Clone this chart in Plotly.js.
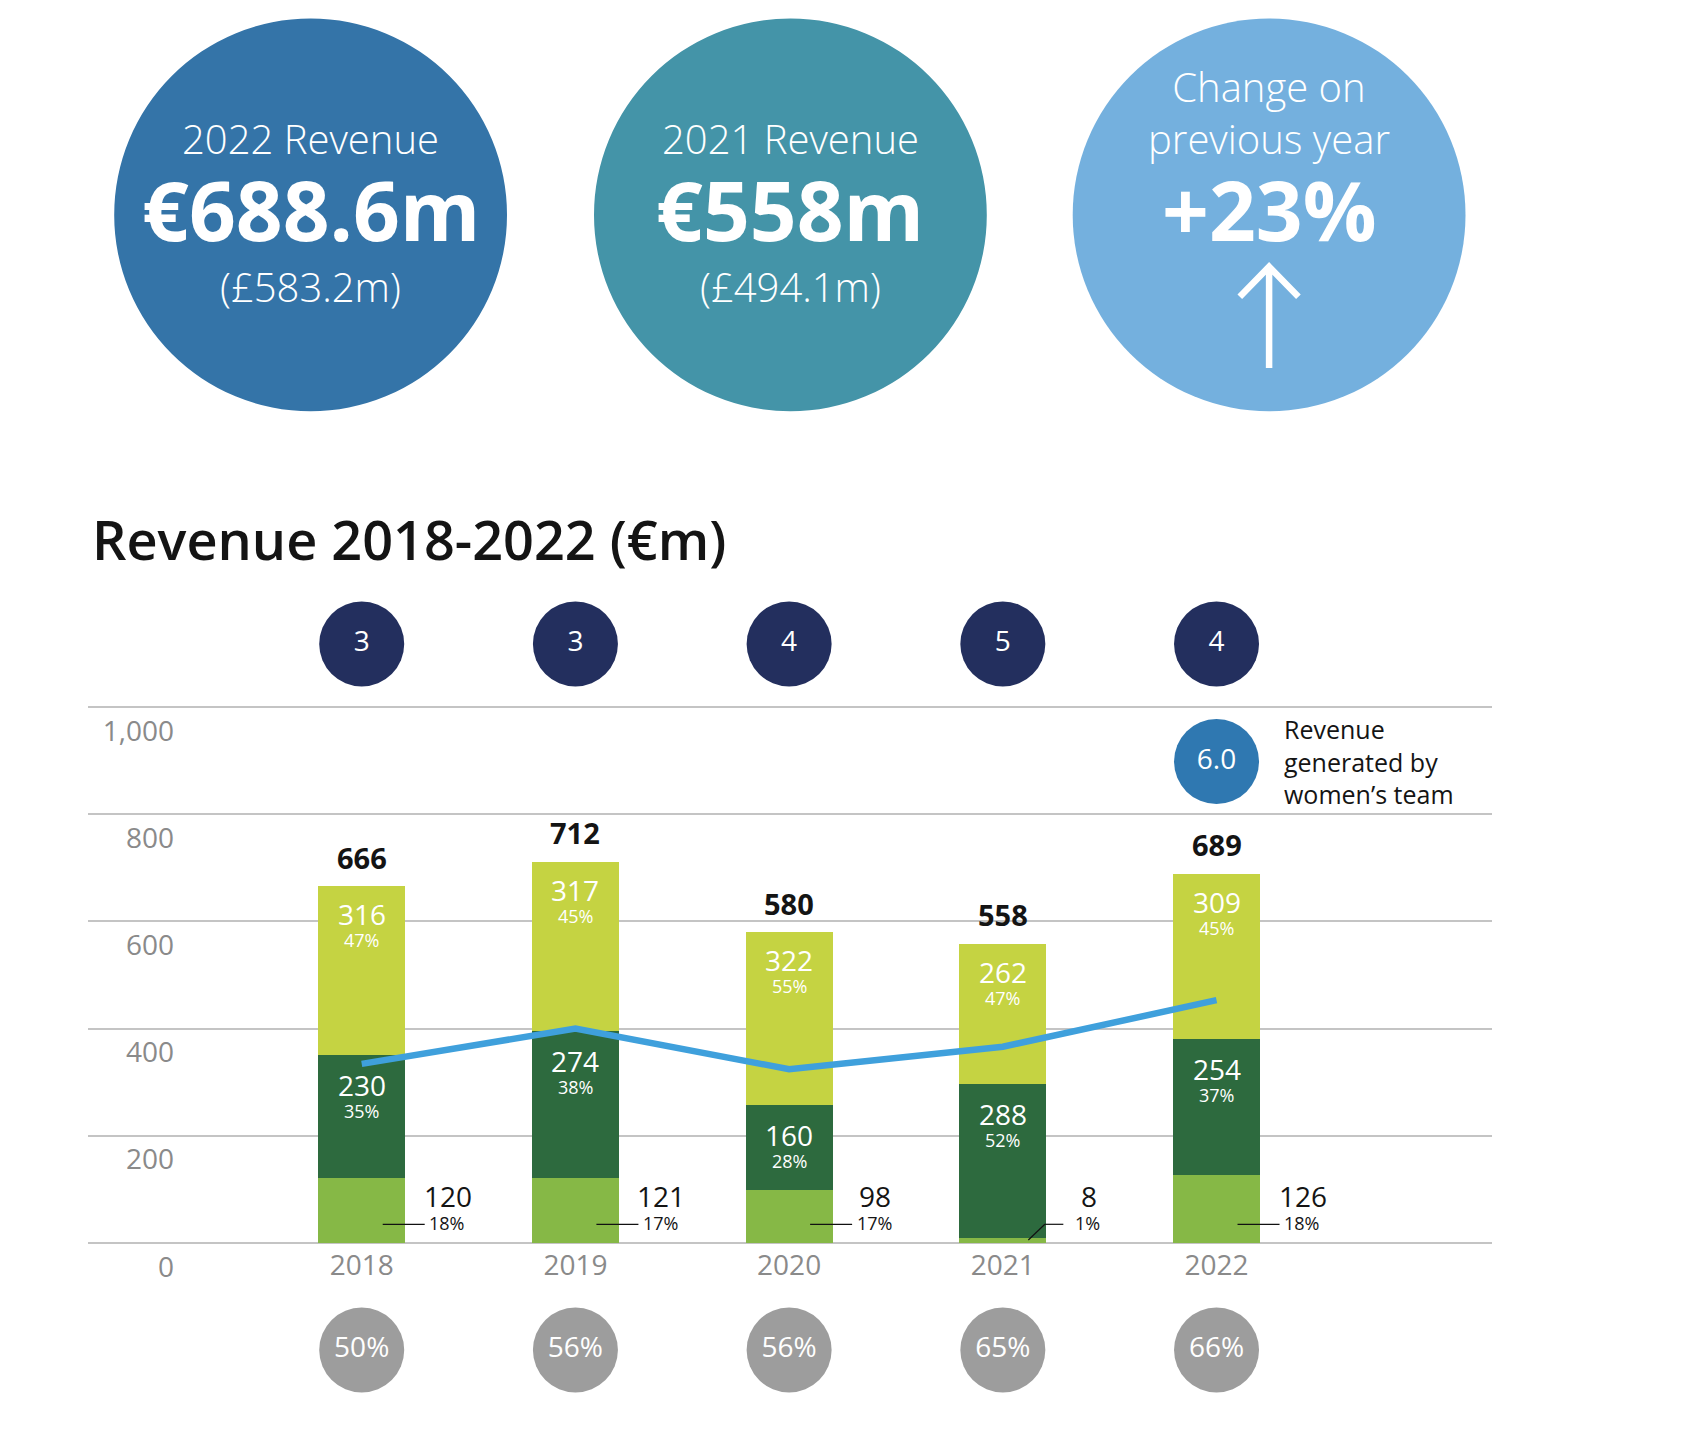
<!DOCTYPE html>
<html><head><meta charset="utf-8">
<script src="https://cdn.plot.ly/plotly-3.0.1.min.js"></script>
<style>html,body{margin:0;padding:0;background:#fff}#chart{width:1706px;height:1451px}</style>
</head><body><div id="chart"></div>
<script>
// ---------- data ----------
const years = ['2018', '2019', '2020', '2021', '2022'];
const bottomVals = [120, 121, 98, 8, 126];
const bottomPct = ['18%', '17%', '17%', '1%', '18%'];
const middleVals = [230, 274, 160, 288, 254];
const middlePct = ['35%', '38%', '28%', '52%', '37%'];
const topVals = [316, 317, 322, 262, 309];
const topPct = ['47%', '45%', '55%', '47%', '45%'];
const totals = [666, 712, 580, 558, 689];
const lineVals = [334, 400, 324, 366, 453];
const topCircleVals = ['3', '3', '4', '5', '4'];
const bottomCirclePct = ['50%', '56%', '56%', '65%', '66%'];
const womenTeamRevenue = ['6.0'];
const legendText = 'Revenue<br>generated by<br>women’s team';
const yTickVals = [0, 200, 400, 600, 800, 1000];
const yTickText = ['0', '200', '400', '600', '800', '1,000'];
const chartTitle = 'Revenue 2018-2022 (€m)';
const kpiLabels = ['2022 Revenue', '2021 Revenue', 'Change on<br>previous year'];
const kpiValues = ['€688.6m', '€558m', '+23%'];
const kpiSubs = ['(£583.2m)', '(£494.1m)', ''];

// ---------- styling / geometry ----------
const W = 1706, H = 1451;
const M = {l: 88, r: 214, t: 590, b: 51};
const PW = W - M.l - M.r, PH = H - M.t - M.b;
const px2x = px => (px - M.l) / PW;
const px2y = py => (H - M.b - py) / PH;
const FONT = 'Open Sans, Noto Sans, sans-serif';
const C = {
  bottom: '#86b846', middle: '#2d6a3e', top: '#c5d342', line: '#3fa0dc',
  navy: '#232f5e', gray: '#9d9d9d', legend: '#2f78b1', grid: '#c4c4c4',
  tick: '#8a8a8a', text: '#141414'
};
const kpiColors = ['#3474a8', '#4494a8', '#74b0de'];
const kpiCx = [310.6, 790.4, 1269.1], kpiCy = 214.9, kpiR = 196.4;
const Y_RANGE = [-293.8, 1219.1];
const NAVY_Y = 1118.2, GRAY_Y = -200.4, LEGEND_Y = 898.6;
const BAR_W = 0.406, CIRCLE_SIZE = 85;
const idx = years.map((_, i) => i);

// ---------- traces ----------
const traces = [
  {type: 'bar', x: idx, y: bottomVals, width: BAR_W, marker: {color: C.bottom, line: {width: 0}}, hoverinfo: 'skip'},
  {type: 'bar', x: idx, y: middleVals, width: BAR_W, marker: {color: C.middle, line: {width: 0}}, hoverinfo: 'skip'},
  {type: 'bar', x: idx, y: topVals, width: BAR_W, marker: {color: C.top, line: {width: 0}}, hoverinfo: 'skip'},
  {type: 'scatter', mode: 'lines', x: idx, y: lineVals, line: {color: C.line, width: 6.5}, hoverinfo: 'skip'},
  {type: 'scatter', mode: 'markers+text', x: idx, y: idx.map(() => NAVY_Y), text: topCircleVals,
   textposition: 'middle center', textfont: {family: FONT, size: 28, color: '#fff'},
   marker: {size: CIRCLE_SIZE, color: C.navy, line: {width: 0}}, cliponaxis: false, hoverinfo: 'skip'},
  {type: 'scatter', mode: 'markers+text', x: idx, y: idx.map(() => GRAY_Y), text: bottomCirclePct,
   textposition: 'middle center', textfont: {family: FONT, size: 28, color: '#fff'},
   marker: {size: CIRCLE_SIZE, color: C.gray, line: {width: 0}}, cliponaxis: false, hoverinfo: 'skip'},
  {type: 'scatter', mode: 'markers+text', x: [idx[idx.length - 1]], y: [LEGEND_Y], text: womenTeamRevenue,
   textposition: 'middle center', textfont: {family: FONT, size: 28, color: '#fff'},
   marker: {size: CIRCLE_SIZE, color: C.legend, line: {width: 0}}, cliponaxis: false, hoverinfo: 'skip'}
];

// ---------- annotations ----------
const ann = [];
const A = o => ann.push(Object.assign({showarrow: false}, o));
A({xref: 'paper', yref: 'paper', x: px2x(90), y: px2y(538.6), xanchor: 'left', yanchor: 'middle',
   text: chartTitle, font: {family: FONT, size: 54, weight: 600, color: C.text}});
kpiLabels.forEach((lab, k) => {
  const x = px2x(kpiCx[k]);
  A({xref: 'paper', yref: 'paper', x, y: px2y(167.6), xanchor: 'center', yanchor: 'bottom',
     text: lab, font: {family: FONT, size: 40, weight: 300, color: '#fff'}});
  A({xref: 'paper', yref: 'paper', x, y: px2y(208.9), xanchor: 'center', yanchor: 'middle',
     text: kpiValues[k], font: {family: FONT, size: 82, weight: 700, color: '#fff'}});
  if (kpiSubs[k]) A({xref: 'paper', yref: 'paper', x, y: px2y(286), xanchor: 'center', yanchor: 'middle',
     text: kpiSubs[k], font: {family: FONT, size: 40, weight: 300, color: '#fff'}});
});
idx.forEach(i => {
  const stackTop = bottomVals[i] + middleVals[i] + topVals[i];
  const midTop = bottomVals[i] + middleVals[i];
  A({x: i, y: stackTop, yshift: 29, yanchor: 'middle', text: String(totals[i]),
     font: {family: FONT, size: 29, weight: 700, color: C.text}});
  A({x: i, y: stackTop, yshift: -28, yanchor: 'middle', text: String(topVals[i]),
     font: {family: FONT, size: 28, color: '#fff'}});
  A({x: i, y: stackTop, yshift: -54, yanchor: 'middle', text: topPct[i],
     font: {family: FONT, size: 18, color: '#fff'}});
  A({x: i, y: midTop, yshift: -30, yanchor: 'middle', text: String(middleVals[i]),
     font: {family: FONT, size: 28, color: '#fff'}});
  A({x: i, y: midTop, yshift: -56, yanchor: 'middle', text: middlePct[i],
     font: {family: FONT, size: 18, color: '#fff'}});
  A({x: i, y: 0, xshift: 86, yshift: 46.7, yanchor: 'middle', text: String(bottomVals[i]),
     font: {family: FONT, size: 28, color: C.text}});
  A({x: i, y: 0, xshift: 85, yshift: 19.4, yanchor: 'middle', text: bottomPct[i],
     font: {family: FONT, size: 18, color: C.text}});
});
A({xref: 'paper', yref: 'paper', x: px2x(1281.7), y: px2y(761.6), xanchor: 'left', yanchor: 'middle', align: 'left',
   text: legendText, font: {family: FONT, size: 25, color: C.text}});

// ---------- shapes ----------
const shapes = [];
kpiColors.forEach((col, k) => shapes.push({
  type: 'circle', xref: 'paper', yref: 'paper', xsizemode: 'pixel', ysizemode: 'pixel',
  xanchor: px2x(kpiCx[k]), yanchor: px2y(kpiCy), x0: -kpiR, x1: kpiR, y0: -kpiR, y1: kpiR,
  fillcolor: col, line: {width: 0}, layer: 'below'
}));
shapes.push({
  type: 'path', xref: 'paper', yref: 'paper', xsizemode: 'pixel', ysizemode: 'pixel',
  xanchor: px2x(kpiCx[2]), yanchor: px2y(368),
  path: 'M0,0L0,101.3M-29.3,71.3L0,101.3L29.3,71.3', line: {color: '#fff', width: 6.5}
});
const PXU = PH / (Y_RANGE[1] - Y_RANGE[0]);
idx.forEach(i => {
  const base = {type: 'line', xref: 'x', yref: 'y', xsizemode: 'pixel', ysizemode: 'pixel',
                xanchor: i, yanchor: 0, line: {color: '#111', width: 1.2}};
  if (bottomVals[i] * PXU < 20) {
    shapes.push(Object.assign({}, base, {x0: 25.5, y0: 2.7, x1: 42, y1: 18.4}));
    shapes.push(Object.assign({}, base, {x0: 42, y0: 18.4, x1: 60.5, y1: 18.4}));
  } else {
    shapes.push(Object.assign({}, base, {x0: 21, y0: 18.4, x1: 63, y1: 18.4}));
  }
});

// ---------- layout ----------
const layout = {
  width: W, height: H, margin: M, paper_bgcolor: '#fff', plot_bgcolor: '#fff',
  barmode: 'stack', showlegend: false, font: {family: FONT},
  xaxis: {range: [-1.2808, 5.289], tickvals: idx, ticktext: years, showgrid: false, zeroline: false,
          showline: false, ticks: '', anchor: 'free', position: px2y(1242.7), ticklabelstandoff: 3,
          tickfont: {family: FONT, size: 28, color: C.tick}, fixedrange: true},
  yaxis: {range: Y_RANGE, tickvals: yTickVals, ticktext: yTickText, showgrid: true, gridcolor: C.grid,
          gridwidth: 2, zeroline: false, showline: false, ticks: '',
          ticklabelstandoff: -87, ticklabelshift: 24,
          tickfont: {family: FONT, size: 28, color: C.tick}, fixedrange: true},
  annotations: ann, shapes: shapes
};
Plotly.newPlot('chart', traces, layout, {displayModeBar: false, staticPlot: true});
</script>
</body></html>
